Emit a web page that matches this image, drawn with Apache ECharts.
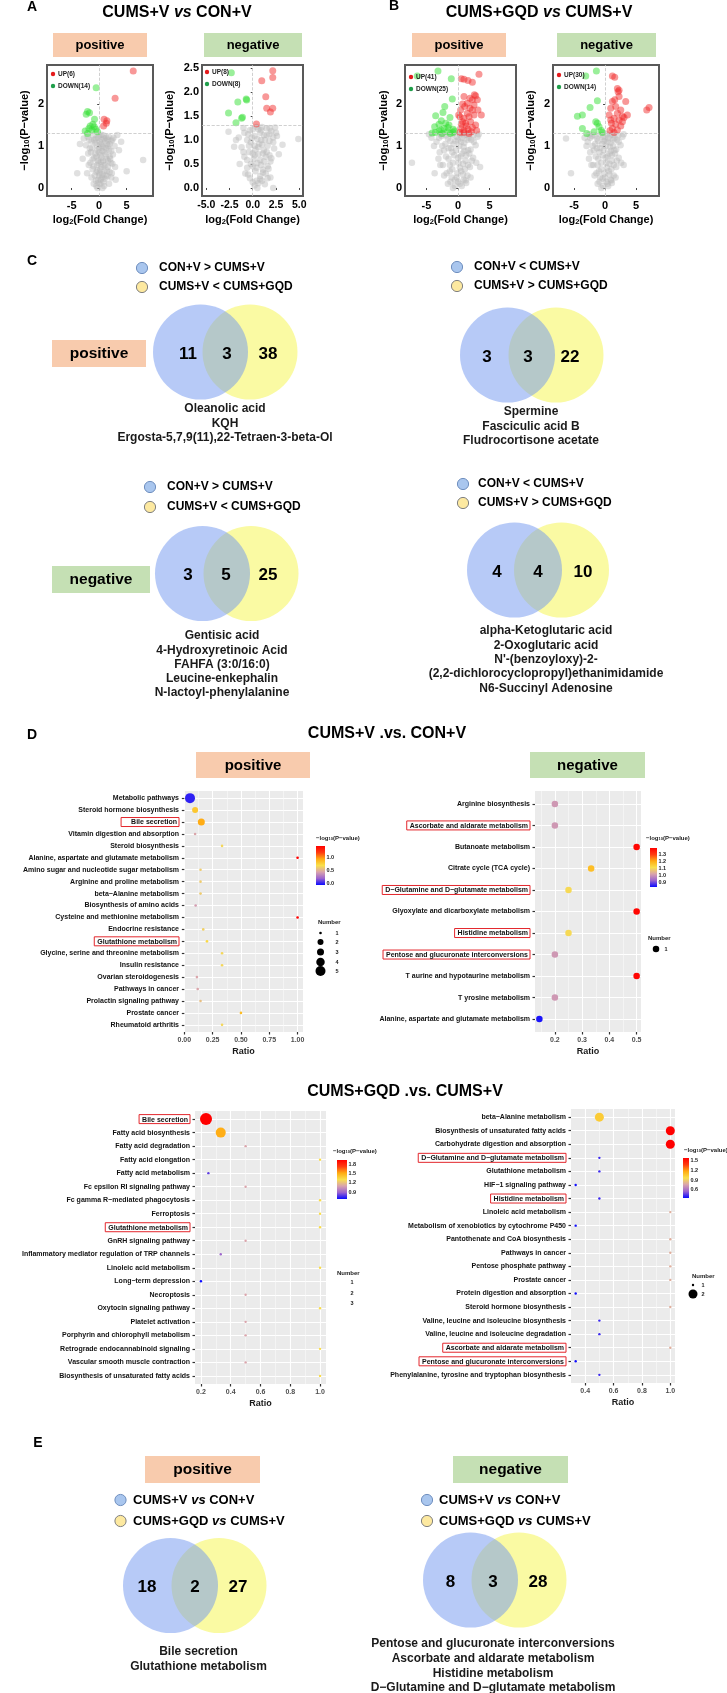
<!DOCTYPE html>
<html>
<head>
<meta charset="utf-8">
<title>CUMS metabolomics figure</title>
<script src="https://cdn.jsdelivr.net/npm/echarts@6/dist/echarts.min.js"></script>
<style>
  html, body { margin: 0; padding: 0; background: #fff; }
  #fig { width: 727px; height: 1693px; }
</style>
</head>
<body>
<div id="fig"></div>
<script>
// ---- A / B volcano points: [log2(FC), -log10(P)] ----
var aPosUp = [[6.2,2.79],[2.9,2.14],[0.9,1.64],[1.4,1.6],[0.8,1.48],[1.3,1.54]];
var aPosDown = [[-0.55,2.39],[-2.12,1.82],[-1.76,1.79],[-0.85,1.64],[-1.64,1.48],[-1.15,1.52],[-0.61,1.4],
  [-2.12,1.3],[-1.33,1.38],[-0.3,1.34],[-2.55,1.36],[-0.9,1.46],[-1.87,1.42],[-2.36,1.76]];
var aPosOther = [[-0.5,0.05],[0.2,0.1],[0.8,0.15],[-0.2,0.2],[0.5,0.25],[1.2,0.3],[-0.8,0.3],[0.1,0.35],[0.9,0.4],
  [-1.2,0.45],[0.4,0.5],[1.6,0.5],[-0.4,0.55],[2.1,0.6],[-1.6,0.6],[0.7,0.65],[1.3,0.7],[-0.9,0.72],[0.2,0.78],
  [2.5,0.8],[-2.0,0.82],[1.0,0.85],[-0.3,0.9],[1.8,0.92],[-1.3,0.95],[0.5,1.0],[2.8,1.0],[-2.4,1.02],[1.4,1.05],
  [-0.7,1.08],[0.1,1.1],[2.2,1.12],[-1.8,1.15],[0.9,1.18],[-0.2,1.2],[1.7,1.22],[-1.1,1.25],[3.3,1.26],[0.4,1.27],
  [2.6,1.2],[-2.8,1.18],[-3.5,1.05],[-4.0,0.35],[8.0,0.67],[4.0,1.1],[3.6,0.9],[-3.0,0.7],[5.0,0.4],[-0.1,0.6],
  [0.6,0.0],[-0.3,0.42],[1.1,0.55],[0.0,0.95],[1.5,0.28],[-0.6,0.18],[2.9,0.5],[-2.2,0.35],[0.3,0.62],[1.9,0.75],
  [-1.5,0.85],[3.0,0.2],[-0.9,1.15],[0.8,1.25],[1.2,0.95],[-0.5,0.75],[0.0,0.3],[0.6,0.88],[-1.9,0.55],[2.3,0.35],[1.6,1.15],
  [-1.0,0.1],[1.8,0.1],[0.3,0.2],[-0.1,0.12],[1.0,0.22],[2.2,0.25],[-1.4,0.25],[0.6,0.32],[1.9,0.38],[-0.5,0.38],
  [0.2,0.45],[1.4,0.42],[-1.0,0.52],[0.8,0.55],[2.4,0.58],[-0.2,0.65],[1.6,0.65],[-1.2,0.68],[0.4,0.72],[2.0,0.7],
  [-0.7,0.82],[1.2,0.8],[0.0,0.85],[2.2,0.88],[-1.7,0.95],[0.7,0.98],[1.6,1.0],[-0.4,1.02],[0.3,1.05],[1.9,1.05],
  [-1.4,1.1],[1.1,1.12],[-0.6,1.18],[0.5,1.15],[2.4,1.15],[-2.1,1.22],[1.3,1.2],[0.0,1.25],[-0.3,0.0],[0.9,0.05]];

var aNegUp = [[2.15,2.44],[2.15,2.3],[0.97,2.23],[1.4,1.9],[1.5,1.66],[2.15,1.66],[1.9,1.58],[0.4,1.33]];
var aNegDown = [[-2.3,2.4],[-0.65,1.83],[-1.6,1.79],[-2.6,1.56],[-1.2,1.45],[-1.8,1.36],[-1.1,1.47],[-0.7,1.85]];
var aNegOther = [[0.2,0.05],[0.6,0.1],[1.0,0.15],[-0.3,0.2],[0.8,0.25],[1.4,0.3],[0.3,0.35],[1.7,0.4],[-0.6,0.42],
  [0.9,0.48],[1.2,0.55],[0.1,0.6],[2.0,0.62],[-0.9,0.65],[0.6,0.7],[1.5,0.75],[0.3,0.8],[2.3,0.82],[-1.2,0.85],
  [1.0,0.9],[-0.2,0.95],[1.8,0.98],[0.5,1.02],[-1.5,1.05],[2.6,1.08],[1.2,1.1],[-0.5,1.12],[0.8,1.15],[2.0,1.18],
  [-2.6,1.17],[4.9,1.02],[2.2,0.0],[-1.8,1.0],[-2.0,0.86],[0.0,1.22],[1.5,1.24],[-1.0,1.25],[0.4,1.27],[2.4,1.26],
  [1.1,0.38],[0.5,0.52],[1.4,0.65],[-0.4,0.75],[0.9,1.2],[1.6,0.2],[0.0,0.45],[1.9,0.55],[-0.8,0.3],[0.7,0.92],
  [1.3,1.0],[-0.1,1.05],[2.8,0.7],[-1.4,0.5],[3.2,0.9],[0.4,0.15],[1.1,0.72],[1.8,1.12],[-0.6,1.0],[0.2,0.88],[2.2,0.95],
  [0.5,0.0],[1.3,0.08],[0.0,0.12],[0.8,0.18],[1.9,0.22],[-0.5,0.28],[1.1,0.32],[0.4,0.42],[1.6,0.45],[-0.2,0.5],
  [0.8,0.58],[1.8,0.68],[-0.6,0.58],[0.2,0.68],[1.2,0.78],[-1.0,0.75],[0.6,0.85],[1.6,0.88],[-0.4,0.88],[0.9,1.0],
  [2.2,1.05],[0.2,1.08],[1.5,1.1],[-0.9,1.15],[0.6,1.22],[1.8,1.25],[-0.3,1.2],[1.0,1.27],[2.5,1.15],[0.0,0.72]];

var bPosUp = [[3.33,2.71],[0.53,2.6],[0.95,2.59],[1.59,2.56],[2.28,2.52],[0.95,2.18],[1.9,2.14],[2.8,2.2],[2.28,2.1],
  [1.48,2.02],[0.42,1.86],[1.06,1.94],[1.9,1.9],[2.54,1.98],[3.07,2.1],[3.7,1.74],[0.32,1.7],[0.95,1.66],[1.75,1.7],
  [2.54,1.74],[0.53,1.52],[1.22,1.54],[2.01,1.58],[2.8,1.5],[0.42,1.42],[0.95,1.37],[1.59,1.4],[2.28,1.44],[0.95,1.32],
  [1.75,1.3],[0.32,1.32],[2.12,1.34],[2.96,1.37],[0.74,1.58],[1.48,1.78],[2.28,1.86],[0.11,1.74],[3.17,1.86],
  [1.32,1.48],[2.6,2.22],[0.74,2.0]];
var bPosDown = [[-3.17,2.79],[-6.46,2.67],[-1.06,2.6],[-0.9,2.12],[-2.1,1.94],[-3.54,1.72],[-2.38,1.8],[-1.27,1.68],
  [-2.64,1.6],[-3.7,1.46],[-3.0,1.36],[-2.2,1.42],[-1.7,1.34],[-0.74,1.4],[-3.6,1.32],[-2.5,1.3],[-0.8,1.32],
  [-1.96,1.54],[-3.0,1.52],[-1.43,1.5],[-2.7,1.38],[-1.2,1.3],[-4.1,1.31],[-1.6,1.44],[-0.6,1.36]];
var bPosOther = [[-0.5,0.05],[0.3,0.1],[-1.2,0.15],[0.9,0.2],[-0.2,0.25],[1.5,0.3],[-1.8,0.35],[0.5,0.4],[-0.9,0.45],
  [1.9,0.5],[-2.4,0.55],[0.1,0.6],[1.2,0.65],[-1.5,0.7],[2.4,0.72],[-0.6,0.78],[0.7,0.82],[-2.9,0.85],[1.6,0.9],
  [-1.1,0.95],[0.2,1.0],[2.8,1.02],[-2.0,1.05],[1.0,1.08],[-3.4,1.1],[-0.4,1.12],[2.1,1.15],[-1.6,1.18],[0.6,1.2],
  [3.1,1.22],[-2.6,1.24],[-0.9,1.26],[1.4,1.27],[-4.2,1.2],[-3.8,1.0],[-7.3,0.6],[-3.7,0.35],[3.5,0.5],[-0.1,0.35],
  [1.1,0.45],[-1.3,0.55],[0.4,0.75],[1.8,0.82],[-2.2,0.9],[0.9,0.98],[-0.7,1.05],[2.5,1.1],[-1.9,1.25],[0.0,1.15],
  [1.7,1.2],[-3.1,0.7],[2.9,0.6],[-0.3,0.9],[0.8,0.58],[-1.0,0.25],[1.3,0.12],[-2.7,1.28],[3.3,1.28],[-4.6,1.28],[0.3,1.28],
  [-0.8,0.0],[0.6,0.05],[-1.6,0.1],[0.0,0.15],[1.2,0.18],[-0.5,0.2],[2.0,0.25],[-2.2,0.3],[0.8,0.32],[-1.3,0.4],
  [0.3,0.48],[1.6,0.55],[-0.8,0.6],[2.2,0.65],[-1.9,0.75],[0.0,0.72],[1.3,0.78],[-0.9,0.85],[2.0,0.92],[-2.5,1.0],
  [0.5,1.1],[1.5,1.15],[-1.2,1.12],[-3.0,1.2],[0.9,1.25],[2.4,1.25],[-0.2,1.22],[-1.5,0.95],[1.0,0.88],[-2.8,0.55]];

var bNegUp = [[1.18,2.67],[1.56,2.64],[1.99,2.37],[2.26,2.33],[2.1,2.29],[7.1,1.92],[6.72,1.86],[3.33,2.06],[1.18,2.06],
  [0.91,1.9],[1.72,1.94],[2.53,1.86],[1.99,1.78],[2.8,1.71],[0.65,1.74],[1.45,1.66],[2.26,1.62],[3.06,1.68],[1.02,1.54],
  [1.72,1.52],[2.53,1.48],[1.18,1.42],[1.99,1.38],[1.45,1.32],[0.8,1.37],[2.8,1.58],[3.6,1.74],[2.26,2.18],[1.56,2.1],[0.91,1.62]];
var bNegDown = [[-1.4,2.79],[-3.12,2.67],[-1.24,2.08],[-2.42,1.92],[-3.66,1.74],[-4.46,1.71],[-1.24,1.54],[-3.66,1.42],
  [-0.97,1.46],[-2.96,1.3],[-1.77,1.34],[-0.6,1.37],[-1.5,1.58],[-0.43,1.32]];
var bNegOther = [[-0.3,0.05],[0.4,0.1],[-0.9,0.15],[0.9,0.2],[0.0,0.25],[1.4,0.3],[-1.4,0.35],[0.6,0.4],[-0.6,0.45],
  [1.8,0.5],[-1.9,0.55],[0.2,0.6],[1.1,0.65],[-1.1,0.7],[2.2,0.72],[-0.4,0.78],[0.7,0.82],[-2.4,0.85],[1.5,0.9],
  [-0.8,0.95],[0.1,1.0],[2.5,1.02],[-1.6,1.05],[0.9,1.08],[-2.8,1.1],[-0.2,1.12],[1.9,1.15],[-1.3,1.18],[0.5,1.2],
  [2.8,1.22],[-2.2,1.24],[-0.7,1.26],[1.2,1.27],[-3.3,1.2],[-6.3,1.18],[-5.5,0.35],[3.0,0.55],[-0.1,0.35],[1.0,0.45],
  [-1.2,0.55],[0.4,0.75],[1.6,0.82],[-1.8,0.9],[0.8,0.98],[-0.5,1.05],[2.2,1.1],[-1.6,1.25],[0.0,1.15],[1.5,1.2],
  [-2.6,0.7],[2.6,0.6],[-0.2,0.9],[0.7,0.58],[-0.8,0.25],[1.1,0.12],[-2.5,1.28],[3.0,1.28],[0.3,1.28],[-3.0,1.0],[1.3,1.0],
  [-0.6,0.0],[0.5,0.05],[-1.2,0.1],[0.2,0.15],[1.0,0.18],[-0.4,0.22],[1.7,0.25],[-1.7,0.3],[0.7,0.32],[-1.0,0.4],
  [0.3,0.48],[1.4,0.55],[-0.6,0.6],[1.9,0.65],[-1.5,0.75],[0.1,0.72],[1.1,0.78],[-0.9,0.85],[1.8,0.92],[-2.0,1.0],
  [0.4,1.1],[1.3,1.15],[-1.1,1.12],[-2.4,1.2],[0.8,1.25],[2.1,1.25],[-0.3,1.22],[-1.3,0.95],[0.9,0.88],[-2.2,0.55]];

var pCut = 1.3;   // -log10(0.05)

// ---- C / E venn counts and labels ----
var vennC = [[11,3,38],[3,3,22],[3,5,25],[4,4,10]];
var legendC = [['CON+V > CUMS+V','CUMS+V < CUMS+GQD'],['CON+V < CUMS+V','CUMS+V > CUMS+GQD'],
  ['CON+V > CUMS+V','CUMS+V < CUMS+GQD'],['CON+V < CUMS+V','CUMS+V > CUMS+GQD']];
var sharedC = [
  ['Oleanolic acid','KQH','Ergosta-5,7,9(11),22-Tetraen-3-beta-Ol'],
  ['Spermine','Fasciculic acid B','Fludrocortisone acetate'],
  ['Gentisic acid','4-Hydroxyretinoic Acid','FAHFA (3:0/16:0)','Leucine-enkephalin','N-lactoyl-phenylalanine'],
  ['alpha-Ketoglutaric acid','2-Oxoglutaric acid',"N'-(benzoyloxy)-2-",'(2,2-dichlorocyclopropyl)ethanimidamide','N6-Succinyl Adenosine']];
var vennE = [[18,2,27],[8,3,28]];
var sharedE = [['Bile secretion','Glutathione metabolism'],
  ['Pentose and glucuronate interconversions','Ascorbate and aldarate metabolism','Histidine metabolism','D\u2212Glutamine and D\u2212glutamate metabolism']];

// ---- D pathway bubbles ----
var d1Cats = ['Metabolic pathways','Steroid hormone biosynthesis','Bile secretion','Vitamin digestion and absorption',
  'Steroid biosynthesis','Alanine, aspartate and glutamate metabolism','Amino sugar and nucleotide sugar metabolism',
  'Arginine and proline metabolism','beta\u2212Alanine metabolism','Biosynthesis of amino acids',
  'Cysteine and methionine metabolism','Endocrine resistance','Glutathione metabolism',
  'Glycine, serine and threonine metabolism','Insulin resistance','Ovarian steroidogenesis','Pathways in cancer',
  'Prolactin signaling pathway','Prostate cancer','Rheumatoid arthritis'];
var d1Ratio = [0.05,0.095,0.15,0.095,0.333,1.0,0.143,0.143,0.143,0.1,1.0,0.167,0.2,0.333,0.333,0.111,0.118,0.143,0.5,0.333];
var d1LogP = [0.02,0.8,0.92,0.45,0.65,1.41,0.6,0.6,0.6,0.42,1.41,0.62,0.72,0.65,0.65,0.45,0.45,0.55,0.85,0.65];
var d1Num = [5,2,3,1,1,1,1,1,1,1,1,1,1,1,1,1,1,1,1,1];

var d2Cats = ['Arginine biosynthesis','Ascorbate and aldarate metabolism','Butanoate metabolism','Citrate cycle (TCA cycle)',
  'D\u2212Glutamine and D\u2212glutamate metabolism','Glyoxylate and dicarboxylate metabolism','Histidine metabolism',
  'Pentose and glucuronate interconversions','T aurine and hypotaurine metabolism','T yrosine metabolism',
  'Alanine, aspartate and glutamate metabolism'];
var d2Ratio = [0.2,0.2,0.5,0.333,0.25,0.5,0.25,0.2,0.5,0.2,0.143];
var d2LogP = [1.0,1.0,1.38,1.17,1.1,1.38,1.1,1.0,1.38,1.0,0.84];
var d2Num = [1,1,1,1,1,1,1,1,1,1,1];

var d3Cats = ['Bile secretion','Fatty acid biosynthesis','Fatty acid degradation','Fatty acid elongation',
  'Fatty acid metabolism','Fc epsilon RI signaling pathway','Fc gamma R\u2212mediated phagocytosis','Ferroptosis',
  'Glutathione metabolism','GnRH signaling pathway','Inflammatory mediator regulation of TRP channels',
  'Linoleic acid metabolism','Long\u2212term depression','Necroptosis','Oxytocin signaling pathway','Platelet activation',
  'Porphyrin and chlorophyll metabolism','Retrograde endocannabinoid signaling','Vascular smooth muscle contraction',
  'Biosynthesis of unsaturated fatty acids'];
var d3Ratio = [0.234,0.333,0.5,1.0,0.25,0.5,1.0,1.0,1.0,0.5,0.333,1.0,0.2,0.5,1.0,0.5,0.5,1.0,0.5,1.0];
var d3LogP = [1.93,1.5,1.1,1.32,0.8,1.1,1.32,1.32,1.32,1.1,0.9,1.32,0.68,1.1,1.32,1.1,1.1,1.32,1.1,1.32];
var d3Num = [3,2,1,1,1,1,1,1,1,1,1,1,1,1,1,1,1,1,1,1];

var d4Cats = ['beta\u2212Alanine metabolism','Biosynthesis of unsaturated fatty acids','Carbohydrate digestion and absorption',
  'D\u2212Glutamine and D\u2212glutamate metabolism','Glutathione metabolism','HIF\u22121 signaling pathway',
  'Histidine metabolism','Linoleic acid metabolism','Metabolism of xenobiotics by cytochrome P450',
  'Pantothenate and CoA biosynthesis','Pathways in cancer','Pentose phosphate pathway','Prostate cancer',
  'Protein digestion and absorption','Steroid hormone biosynthesis','Valine, leucine and isoleucine biosynthesis',
  'Valine, leucine and isoleucine degradation','Ascorbate and aldarate metabolism',
  'Pentose and glucuronate interconversions','Phenylalanine, tyrosine and tryptophan biosynthesis'];
var d4Ratio = [0.5,1.0,1.0,0.5,0.5,0.333,0.5,1.0,0.333,1.0,1.0,1.0,1.0,0.333,1.0,0.5,0.5,1.0,0.333,0.5];
var d4LogP = [1.05,1.59,1.59,0.42,0.42,0.36,0.42,0.8,0.36,0.8,0.8,0.8,0.8,0.36,0.8,0.42,0.42,0.8,0.36,0.42];
var d4Num = [2,2,2,1,1,1,1,1,1,1,1,1,1,1,1,1,1,1,1,1];

var FONT = '"Liberation Sans", Arial, Helvetica, sans-serif';
var palette = ['#0a0aff','#9b63cf','#d9a3ad','#f9e04c','#ffab12','#ff3b10','#ff0000'];
var PEACH = '#f8cbad', GREEN = '#c5e0b4';

var chart = echarts.init(document.getElementById('fig'));

// ---------- volcano plots ----------
var volc = [
  {rect:[47,65,106,131], x:[-9.5,9.8], xt:[-5,0,5], xd:0, xs:11, y:[-0.19,2.93], yt:[0,1,2], yd:0, gap:16,
   other:aPosOther, down:aPosDown, up:aPosUp, leg:[53,74]},
  {rect:[202,65,101,131], x:[-5.45,5.4], xt:[-5,-2.5,0,2.5,5], xd:1, xs:10.5, y:[-0.167,2.56], yt:[0,0.5,1,1.5,2,2.5], yd:1, gap:26,
   other:aNegOther, down:aNegDown, up:aNegUp, leg:[207,72]},
  {rect:[405,65,111,131], x:[-8.4,9.2], xt:[-5,0,5], xd:0, xs:11, y:[-0.19,2.93], yt:[0,1,2], yd:0, gap:15,
   other:bPosOther, down:bPosDown, up:bPosUp, leg:[411,77]},
  {rect:[553,65,106,131], x:[-8.4,8.7], xt:[-5,0,5], xd:0, xs:11, y:[-0.19,2.93], yt:[0,1,2], yd:0, gap:16,
   other:bNegOther, down:bNegDown, up:bNegUp, leg:[559,75]}
];

var grids = [], xAxes = [], yAxes = [], series = [], visualMaps = [];
var subRich = function (size) {
  return {s: {fontSize: size, fontWeight: 'bold', fontFamily: FONT, color: '#000', verticalAlign: 'bottom', lineHeight: size}};
};

volc.forEach(function (v, i) {
  grids.push({left: v.rect[0], top: v.rect[1], width: v.rect[2], height: v.rect[3], show: true,
    borderColor: '#595959', borderWidth: 2, backgroundColor: 'rgba(0,0,0,0)'});
  xAxes.push({gridIndex: i, type: 'value', min: v.x[0], max: v.x[1],
    axisLine: {show: false}, splitLine: {show: false},
    axisTick: {show: true, customValues: v.xt, length: 2, lineStyle: {color: '#444'}},
    axisLabel: {customValues: v.xt, formatter: function (t) { return t.toFixed(v.xd); },
      fontSize: v.xs, fontWeight: 'bold', color: '#000', fontFamily: FONT, margin: 4},
    name: 'log{s|2}(Fold Change)', nameLocation: 'middle', nameGap: 17,
    nameTextStyle: {fontSize: 11, fontWeight: 'bold', color: '#000', fontFamily: FONT, lineHeight: 13, rich: subRich(7.5)}});
  yAxes.push({gridIndex: i, type: 'value', min: v.y[0], max: v.y[1],
    axisLine: {show: false}, splitLine: {show: false},
    axisTick: {show: true, customValues: v.yt, length: 2, lineStyle: {color: '#444'}},
    axisLabel: {customValues: v.yt, formatter: function (t) { return t.toFixed(v.yd); },
      fontSize: 11, fontWeight: 'bold', color: '#000', fontFamily: FONT, margin: 3},
    name: '\u2212log{s|10}(P\u2212value)', nameLocation: 'middle', nameGap: v.gap,
    nameTextStyle: {fontSize: 11, fontWeight: 'bold', color: '#000', fontFamily: FONT, lineHeight: 13, rich: subRich(7.5)}});
  series.push({type: 'scatter', xAxisIndex: i, yAxisIndex: i, data: v.other, symbolSize: 6.5, silent: true,
    itemStyle: {color: 'rgba(185,185,185,0.55)'},
    markLine: {silent: true, symbol: 'none', label: {show: false}, animation: false,
      lineStyle: {type: 'dashed', color: '#c4c4c4', width: 0.8}, data: [{xAxis: 0}, {yAxis: pCut}]}});
  series.push({type: 'scatter', xAxisIndex: i, yAxisIndex: i, data: v.down, symbolSize: 7, silent: true,
    itemStyle: {color: 'rgba(50,222,50,0.62)'}});
  series.push({type: 'scatter', xAxisIndex: i, yAxisIndex: i, data: v.up, symbolSize: 7, silent: true,
    itemStyle: {color: 'rgba(240,40,40,0.6)'}});
});

// ---------- pathway bubble plots ----------
var bub = [
  {rect:[184,791,119,241], x:[-0.003,1.048], maj:[0,0.25,0.5,0.75,1], min:[0.125,0.375,0.625,0.875], d:2,
   cats:d1Cats, ratio:d1Ratio, logp:d1LogP, num:d1Num, sizes:[2.6,6,7,8.5,10], c:[-0.04,1.41],
   boxed:{'Bile secretion':'boxw','Glutathione metabolism':'box'}},
  {rect:[535,791,106,241], x:[0.127,0.516], maj:[0.2,0.3,0.4,0.5], min:[0.15,0.25,0.35,0.45], d:1,
   cats:d2Cats, ratio:d2Ratio, logp:d2LogP, num:d2Num, sizes:[6.5], c:[0.83,1.39],
   boxed:{'Ascorbate and aldarate metabolism':'box','D\u2212Glutamine and D\u2212glutamate metabolism':'box',
     'Histidine metabolism':'box','Pentose and glucuronate interconversions':'box'}},
  {rect:[195,1111,131,273], x:[0.16,1.04], maj:[0.2,0.4,0.6,0.8,1], min:[0.3,0.5,0.7,0.9], d:1,
   cats:d3Cats, ratio:d3Ratio, logp:d3LogP, num:d3Num, sizes:[2.4,10,12], c:[0.68,1.93],
   boxed:{'Bile secretion':'box','Glutathione metabolism':'box'}},
  {rect:[571,1109,104,274], x:[0.3,1.033], maj:[0.4,0.6,0.8,1], min:[0.5,0.7,0.9], d:1,
   cats:d4Cats, ratio:d4Ratio, logp:d4LogP, num:d4Num, sizes:[2.4,9], c:[0.35,1.59],
   boxed:{'D\u2212Glutamine and D\u2212glutamate metabolism':'box','Histidine metabolism':'box',
     'Ascorbate and aldarate metabolism':'box','Pentose and glucuronate interconversions':'box'}}
];

var labelRich = {
  box: {fontSize: 7, fontWeight: 'bold', fontFamily: FONT, color: '#111', borderColor: '#e3262c', borderWidth: 1, padding: [1.5, 2, 0.5, 3]},
  boxw: {fontSize: 7, fontWeight: 'bold', fontFamily: FONT, color: '#111', borderColor: '#e3262c', borderWidth: 1, padding: [1.5, 2, 0.5, 10]}
};

bub.forEach(function (b, k) {
  var gi = 4 + k;
  var idx = b.cats.map(function (c, i) { return i; });
  grids.push({left: b.rect[0], top: b.rect[1], width: b.rect[2], height: b.rect[3], show: true,
    backgroundColor: '#ebebeb', borderWidth: 0});
  xAxes.push({gridIndex: gi, type: 'value', min: b.x[0], max: b.x[1], position: 'bottom',
    axisLine: {show: false}, axisLabel: {show: false},
    axisTick: {show: false, customValues: b.min},
    splitLine: {show: true, customValues: b.min, lineStyle: {color: '#fafafa', width: 0.6}}});
  xAxes.push({gridIndex: gi, type: 'value', min: b.x[0], max: b.x[1], position: 'bottom',
    axisLine: {show: false},
    axisTick: {show: true, customValues: b.maj, length: 2.5, lineStyle: {color: '#333', width: 1.2}},
    axisLabel: {customValues: b.maj, formatter: function (t) { return t.toFixed(b.d); },
      fontSize: 7, fontWeight: 'bold', color: '#4d4d4d', fontFamily: FONT, margin: 5},
    splitLine: {show: true, customValues: b.maj, lineStyle: {color: '#fff', width: 1.1}},
    name: 'Ratio', nameLocation: 'middle', nameGap: 15,
    nameTextStyle: {fontSize: 9, fontWeight: 'bold', color: '#1a1a1a', fontFamily: FONT}});
  yAxes.push({gridIndex: gi, type: 'value', inverse: true, min: -0.6, max: b.cats.length - 0.4,
    axisLine: {show: false},
    axisTick: {show: true, customValues: idx, length: 2.5, lineStyle: {color: '#333', width: 1.2}},
    axisLabel: {customValues: idx, fontSize: 7, fontWeight: 'bold', color: '#111', fontFamily: FONT, margin: 5,
      rich: labelRich,
      formatter: function (t) {
        var c = b.cats[Math.round(t)];
        if (c == null) return '';
        var st = b.boxed[c];
        return st ? '{' + st + '|' + c + '}' : c;
      }},
    splitLine: {show: true, customValues: idx, lineStyle: {color: '#fff', width: 1.1}}});
  series.push({type: 'scatter', xAxisIndex: 5 + 2 * k, yAxisIndex: gi, silent: true, z: 3,
    data: b.cats.map(function (c, i) { return [b.ratio[i], i, b.logp[i], b.num[i]]; }),
    symbolSize: function (val) { return b.sizes[val[3] - 1]; },
    itemStyle: {opacity: 1}});
  visualMaps.push({type: 'continuous', show: false, seriesIndex: 12 + k, dimension: 2,
    min: b.c[0], max: b.c[1], inRange: {color: palette}});
});

// ---------- graphic annotations ----------
var G = [];
function T(x, y, s, size, o) {
  o = o || {};
  var st = {text: s, fontSize: size, fontWeight: o.w || 'bold', fontFamily: FONT, fill: o.c || '#000',
    align: o.a || 'center', verticalAlign: 'middle'};
  if (o.rich) st.rich = o.rich;
  G.push({type: 'text', x: x, y: y, z: 20, silent: true, style: st});
}
function R(x1, y1, x2, y2, fill) {
  G.push({type: 'rect', z: 5, silent: true, shape: {x: x1, y: y1, width: x2 - x1, height: y2 - y1}, style: {fill: fill}});
}
function Ci(cx, cy, r, fill, stroke, z) {
  G.push({type: 'circle', z: z || 6, silent: true, shape: {cx: cx, cy: cy, r: r},
    style: {fill: fill, stroke: stroke || null, lineWidth: stroke ? 1 : 0}});
}
function tag(x1, y1, x2, y2, fill, s, size) {
  R(x1, y1, x2, y2, fill);
  T((x1 + x2) / 2, (y1 + y2) / 2 + 0.5, s, size);
}
function vsRich(size) {
  return {n: {fontSize: size, fontWeight: 'bold', fontFamily: FONT, fill: '#000'},
          i: {fontSize: size, fontWeight: 'bold', fontStyle: 'italic', fontFamily: FONT, fill: '#000'}};
}
function vsText(a, b) { return '{n|' + a + ' }{i|vs}{n| ' + b + '}'; }

// panel letters and titles
T(32, 7, 'A', 14); T(394, 6, 'B', 14); T(32, 261, 'C', 14); T(32, 735, 'D', 14); T(38, 1443, 'E', 14);
T(177, 13, vsText('CUMS+V', 'CON+V'), 16, {rich: vsRich(16)});
T(539, 13, vsText('CUMS+GQD', 'CUMS+V'), 16, {rich: vsRich(16)});
T(387, 734, 'CUMS+V .vs. CON+V', 16);
T(405, 1092, 'CUMS+GQD .vs. CUMS+V', 16);

// A/B tags and in-plot legends
tag(53, 33, 147, 57, PEACH, 'positive', 13); tag(204, 33, 302, 57, GREEN, 'negative', 13);
tag(412, 33, 506, 57, PEACH, 'positive', 13); tag(557, 33, 656, 57, GREEN, 'negative', 13);
volc.forEach(function (v) {
  Ci(v.leg[0], v.leg[1], 2.2, '#e41a1c', null, 25);
  Ci(v.leg[0], v.leg[1] + 12, 2.2, '#1f9e4a', null, 25);
  T(v.leg[0] + 5, v.leg[1], 'UP(' + v.up.length + ')', 6.5, {a: 'left', c: '#222'});
  T(v.leg[0] + 5, v.leg[1] + 12, 'DOWN(' + v.down.length + ')', 6.5, {a: 'left', c: '#222'});
});

// venn diagrams
function venn(o) {
  Ci(o.yx, o.cy, 47.5, '#fafaa3', null, 6);
  Ci(o.bx, o.cy, 47.5, 'rgba(112,150,240,0.5)', null, 7);
  for (var i = 0; i < 3; i++) T(o.nx[i], o.cy + 2, String(o.counts[i]), 17);
  Ci(o.lx, o.ly[0], 5.6, '#a9c6ee', '#6f8fbf', 8);
  Ci(o.lx, o.ly[1], 5.6, '#fde9a0', '#808080', 8);
  for (var j = 0; j < 2; j++) {
    if (o.rich) T(o.tx, o.ly[j], o.legend[j], o.lsize, {a: 'left', rich: o.rich});
    else T(o.tx, o.ly[j], o.legend[j], o.lsize, {a: 'left'});
  }
  o.shared.forEach(function (s, k) { T(o.sx, o.sy + k * o.sdy, s, 12, {c: '#1a1a1a'}); });
}
venn({bx: 200.5, yx: 250, cy: 352, counts: vennC[0], nx: [188, 227, 268], lx: 142, ly: [268, 287], tx: 159,
  legend: legendC[0], lsize: 12, shared: sharedC[0], sx: 225, sy: 409, sdy: 14.5});
venn({bx: 507.5, yx: 556, cy: 355, counts: vennC[1], nx: [487, 528, 570], lx: 457, ly: [267, 286], tx: 474,
  legend: legendC[1], lsize: 12, shared: sharedC[1], sx: 531, sy: 412, sdy: 14.5});
venn({bx: 202.5, yx: 251, cy: 573.5, counts: vennC[2], nx: [188, 226, 268], lx: 150, ly: [487, 507], tx: 167,
  legend: legendC[2], lsize: 12, shared: sharedC[2], sx: 222, sy: 636, sdy: 14.2});
venn({bx: 514.5, yx: 561.5, cy: 570, counts: vennC[3], nx: [497, 538, 583], lx: 463, ly: [484, 503], tx: 478,
  legend: legendC[3], lsize: 12, shared: sharedC[3], sx: 546, sy: 631, sdy: 14.3});
tag(52, 340, 146, 367, PEACH, 'positive', 15.5);
tag(52, 566, 150, 593, GREEN, 'negative', 15.5);

var legE = [vsText('CUMS+V', 'CON+V'), vsText('CUMS+GQD', 'CUMS+V')];
venn({bx: 170.5, yx: 219, cy: 1585.5, counts: vennE[0], nx: [147, 195, 238], lx: 120.5, ly: [1500, 1521], tx: 133,
  legend: legE, lsize: 13, rich: vsRich(13), shared: sharedE[0], sx: 198.5, sy: 1652, sdy: 15});
venn({bx: 470.5, yx: 519, cy: 1580, counts: vennE[1], nx: [450.6, 493, 538], lx: 427, ly: [1500, 1521], tx: 439,
  legend: legE, lsize: 13, rich: vsRich(13), shared: sharedE[1], sx: 493, sy: 1644, sdy: 14.7});
tag(145, 1456, 260, 1483, PEACH, 'positive', 15.5);
tag(453, 1456, 568, 1483, GREEN, 'negative', 15.5);

// D tags
tag(196, 752, 310, 778, PEACH, 'positive', 15);
tag(530, 752, 645, 778, GREEN, 'negative', 15);

// colour bars
function colorbar(x, y1, w, y2, rng, ticks, tx, ty) {
  G.push({type: 'rect', z: 5, silent: true, shape: {x: x, y: y1, width: w, height: y2 - y1},
    style: {fill: {type: 'linear', x: 0, y: 1, x2: 0, y2: 0,
      colorStops: palette.map(function (c, i) { return {offset: i / (palette.length - 1), color: c}; })}}});
  ticks.forEach(function (t) {
    var yy = y2 - (t - rng[0]) / (rng[1] - rng[0]) * (y2 - y1);
    T(x + w + 1.5, yy, t.toFixed(1), 5.5, {a: 'left', c: '#222'});
  });
  T(tx, ty, '\u2212log{s|10}(P\u2212value)', 6,
    {a: 'left', c: '#222', rich: {s: {fontSize: 4, fontWeight: 'bold', fontFamily: FONT, fill: '#222', verticalAlign: 'bottom'}}});
}
colorbar(316, 846, 9, 885, bub[0].c, [1.0, 0.5, 0.0], 316, 838);
colorbar(650, 848, 7, 887, bub[1].c, [1.3, 1.2, 1.1, 1.0, 0.9], 646, 838);
colorbar(337, 1160, 10, 1199, bub[2].c, [1.8, 1.5, 1.2, 0.9], 333, 1151);
colorbar(683, 1158, 6, 1198, bub[3].c, [1.5, 1.2, 0.9, 0.6], 684, 1150);

// size legends
function numLegend(tx, ty, vals, ys, dotX, sizes, labX) {
  T(tx, ty, 'Number', 6, {a: 'left', c: '#222'});
  vals.forEach(function (n, i) {
    if (sizes) Ci(dotX, ys[i], sizes[n - 1] / 2, '#000', null, 8);
    T(labX, ys[i], String(n), 5.5, {c: '#222'});
  });
}
numLegend(318, 922, [1, 2, 3, 4, 5], [933, 942, 952, 962, 971], 320.5, bub[0].sizes, 337);
numLegend(648, 938, [1], [949], 656, bub[1].sizes, 666);
numLegend(337, 1273, [1, 2, 3], [1282, 1293, 1303], 0, null, 352);
numLegend(692, 1276, [1, 2], [1285, 1294], 693, bub[3].sizes, 703);

chart.setOption({
  animation: false,
  backgroundColor: '#fff',
  textStyle: {fontFamily: FONT},
  grid: grids,
  xAxis: xAxes,
  yAxis: yAxes,
  visualMap: visualMaps,
  series: series,
  graphic: {elements: G}
});
</script>
</body>
</html>
